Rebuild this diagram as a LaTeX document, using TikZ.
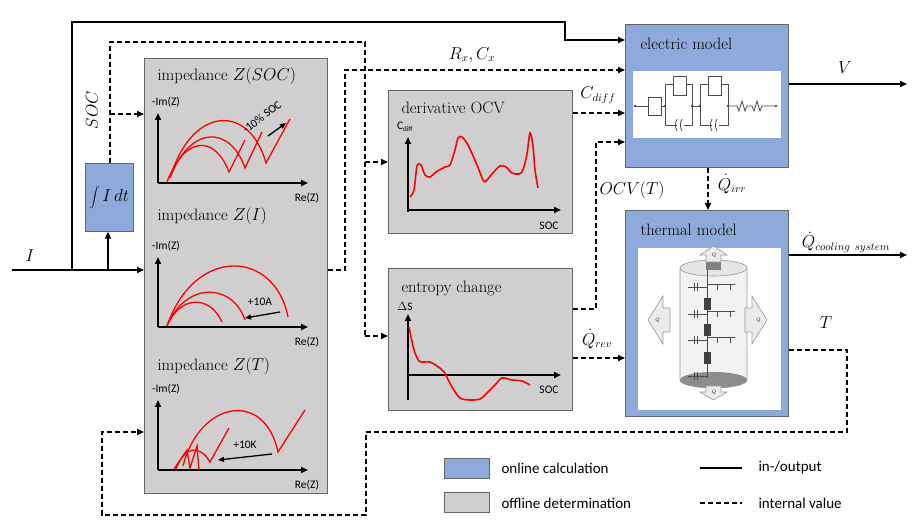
\documentclass[tikz,border=0pt]{standalone}
\usepackage{fontspec}
\newfontfamily\sansf{Carlito}
\usetikzlibrary{arrows.meta}
\definecolor{onl}{RGB}{142,170,219}
\definecolor{offl}{RGB}{208,206,206}
\begin{document}
\begin{tikzpicture}[x=1pt,y=-1pt,
 io/.style={line width=1.6pt,-{Triangle[length=7pt,width=6pt]}},
 iv/.style={line width=1.6pt,dash pattern=on 5pt off 3pt,-{Triangle[length=7pt,width=6pt]}},
 ivn/.style={line width=1.6pt,dash pattern=on 5pt off 3pt},
 ax/.style={line width=1.8pt,-{Triangle[length=7pt,width=6pt]}},
 red/.style={draw=red,line width=1.3pt},
 blk/.style={draw=black!60,line width=0.6pt},
 ttl/.style={font=\fontsize{16.5}{18}\selectfont,anchor=west},
 sm/.style={font=\sansf\fontsize{11.5}{12}\selectfont},
 lab/.style={font=\fontsize{16}{18}\selectfont}]
\useasboundingbox (0,0) rectangle (921,526);
% boxes
\node[blk,fill=offl,minimum width=183pt,minimum height=435pt,anchor=north west,inner sep=0] (imp) at (144,58) {};
\node[blk,fill=onl,minimum width=48pt,minimum height=68pt,anchor=north west,inner sep=0] (int) at (85,163) {};
\node at (int.center) {\fontsize{16}{18}\selectfont$\displaystyle\int I\,dt$};
\node[blk,fill=offl,minimum width=184pt,minimum height=143pt,anchor=north west,inner sep=0] (der) at (388,90) {};
\node[blk,fill=offl,minimum width=184pt,minimum height=142pt,anchor=north west,inner sep=0] (ent) at (388,268) {};
\node[blk,fill=onl,minimum width=163pt,minimum height=143pt,anchor=north west,inner sep=0] (el) at (625,24) {};
\node[blk,fill=onl,minimum width=163pt,minimum height=206pt,anchor=north west,inner sep=0] (th) at (625,210) {};
\fill[white] (633,71) rectangle (781,138);
\fill[white] (638,248) rectangle (781,410);
\node[ttl] at (637,44) {electric model};
\node[ttl] at (637,230) {thermal model};
\node[ttl] at (398,108) {derivative OCV};
\node[ttl] at (398,288) {entropy change};
\node[ttl] at (154,76) {impedance $Z(SOC)$};
\node[ttl] at (154,216) {impedance $Z(I)$};
\node[ttl] at (154,366) {impedance $Z(T)$};
% coordinates
\coordinate (iin) at (12,270);
\coordinate (b1) at (72,270);
\coordinate (b2) at (108,270);
\coordinate (vout) at (907,84);
\coordinate (qout) at (907,255);
% solid connectors
\draw[line width=1.6pt] (iin) -- (b1);
\draw[io] (b1) -- (imp.west |- b1);
\draw[io] (b1) -- (72,22) -- (565,22) -- (565,40) -- (el.west |- 0,40);
\draw[io] (b2) -- (int.south -| b2);
\draw[io] (el.east |- vout) -- (vout);
\draw[io] (th.east |- qout) -- (qout);
\node[lab] at (30,256) {$I$};
\node[lab] at (845,68) {$V$};
\node[lab] at (846,242) {$\dot Q_{cooling\ system}$};
% dashed connectors
\draw[ivn] (int.north -| 110,0) -- (110,42) -- (365,42) -- (365,336);
\draw[iv] (110,114) -- (imp.west |- 0,114);
\draw[iv] (365,162) -- (der.west |- 0,162);
\draw[iv] (365,336) -- (ent.west |- 0,336);
\node[lab,rotate=90] at (92,110) {$SOC$};
\draw[iv] (imp.east |- 0,270) -- (345,270) -- (345,70) -- (el.west |- 0,70);
\node[lab] at (472,55) {$R_x,C_x$};
\draw[iv] (der.east |- 0,113) -- (el.west |- 0,113);
\node[lab] at (598,95) {$C_{diff}$};
\draw[iv] (ent.east |- 0,309) -- (596,309) -- (596,142) -- (el.west |- 0,142);
\node[lab] at (632,190) {$OCV(T)$};
\draw[iv] (ent.east |- 0,358) -- (th.west |- 0,358);
\node[lab] at (597,339) {$\dot Q_{rev}$};
\draw[iv] (el.south -| 708,0) -- (th.north -| 708,0);
\node[lab] at (732,184) {$\dot Q_{irr}$};
\draw[iv] (th.east |- 0,350) -- (847,350) -- (847,432) -- (366,432) -- (366,515) -- (102,515) -- (102,432) -- (imp.west |- 0,432);
\node[lab] at (826,323) {$T$};
% impedance plots
\foreach \o in {183,327,470}{
 \draw[ax] (158,\o) -- (158,\o-70);
 \draw[ax] (158,\o) -- (308,\o);
 \node[sm] at (166,\o-81) {-Im(Z)};
 \node[sm] at (307,\o+15) {Re(Z)};
}
\draw[red] (167,182) .. controls (185,135) and (215,135) .. (229,172) -- (245,140);
\draw[red] (170,178) .. controls (190,125) and (230,125) .. (245,168) -- (262,132);
\draw[red] (172,172) .. controls (195,105) and (250,105) .. (266,163) -- (290,119);
\draw[line width=1.3pt,-{Triangle[length=6pt,width=5pt]}] (268,136) -- (286,123);
\node[sm,rotate=37] at (262,117) {-10\% SOC};
\draw[red] (167,326) .. controls (180,295) and (210,295) .. (222,322);
\draw[red] (167,326) .. controls (185,282) and (232,282) .. (245,320);
\draw[red] (167,326) .. controls (195,245) and (275,250) .. (288,317);
\draw[line width=1.3pt,-{Triangle[length=6pt,width=5pt]}] (280,312) -- (245,318);
\node[sm] at (260,302) {+10A};
\draw[red] (174,469) -- (187,450) -- (190,468) -- (197,446) -- (199,470);
\draw[red] (176,469) .. controls (185,445) and (200,445) .. (210,462) -- (229,428);
\draw[red] (183,466) .. controls (200,400) and (265,390) .. (278,452) -- (305,410);
\draw[line width=1.3pt,-{Triangle[length=6pt,width=5pt]}] (272,454) -- (218,460);
\node[sm] at (245,445) {+10K};
% derivative plot
\draw[ax] (408,212) -- (408,137);
\draw[ax] (408,210) -- (561,210);
\node[sm] at (405,127) {C\textsubscript{\fontsize{7}{8}\selectfont diff}};
\node[sm] at (549,226) {SOC};
\draw[red,line width=1.6pt] plot[smooth] coordinates {(410,197) (414,190) (417,166) (421,165) (425,175) (430,177) (436,172) (445,167) (450,165) (455,150) (458,138) (462,137) (468,145) (477,165) (483,180) (486,181) (492,174) (500,166) (506,167) (512,173) (519,174) (523,170) (527,154) (530,133) (533,146) (535,170) (538,188)};
% entropy plot
\draw[ax] (408,400) -- (408,314);
\draw[ax] (408,375) -- (561,375);
\node[sm] at (405,306) {$\Delta$S};
\node[sm] at (549,390) {SOC};
\draw[red,line width=1.6pt] plot[smooth] coordinates {(409,327) (414,350) (419,361) (424,362) (430,362) (437,366) (444,372) (452,387) (460,398) (470,400) (480,399) (487,393) (495,385) (502,378) (512,380) (522,381) (530,385)};
% circuit
\begin{scope}[draw=black!70,line width=0.8pt]
\draw (635,106) -- (648,106); \draw (648,97) rectangle (661,115);
\draw (661,106) -- (665,106) (665,84) -- (665,125) -- (692,125) -- (692,84) -- (665,84);
\fill[white] (673,76) rectangle (686,95); \draw (673,76) rectangle (686,95);
\fill[white] (677,120) rectangle (684,130);
\draw (677,119) arc[start angle=150,end angle=210,radius=12pt] (682,119) arc[start angle=150,end angle=210,radius=12pt];
\draw (692,106) -- (700,106) (700,84) -- (700,125) -- (728,125) -- (728,84) -- (700,84);
\fill[white] (708,76) rectangle (721,95); \draw (708,76) rectangle (721,95);
\fill[white] (712,120) rectangle (719,130);
\draw (712,119) arc[start angle=150,end angle=210,radius=12pt] (717,119) arc[start angle=150,end angle=210,radius=12pt];
\draw (728,106) -- (737,106) -- (739,111) -- (742,101) -- (745,111) -- (747,106) -- (752,106) -- (754,111) -- (757,101) -- (760,111) -- (762,106) -- (776,106);
\foreach \x in {635,665,692,700,728,776} \fill[black!70] (\x,106) circle (1.3pt);
\end{scope}
% thermal cell
\begin{scope}[draw=black!40,line width=0.6pt]
\draw[fill=black!5] (680,268) -- (680,380) arc[start angle=180,end angle=360,x radius=33.5pt,y radius=8pt] -- (747,268);
\draw[fill=black!10] (713.5,268) ellipse[x radius=33.5pt,y radius=8pt];
\fill[black!45] (713.5,380) ellipse[x radius=33.5pt,y radius=8pt];
\fill[black!50] (706,262) rectangle (721,270);
\draw[fill=black!8] (706,262) -- (706,255) -- (700,255) -- (713.5,246) -- (727,255) -- (721,255) -- (721,262) -- cycle;
\draw[fill=black!8] (706,386) -- (706,392) -- (700,392) -- (713.5,400) -- (727,392) -- (721,392) -- (721,386) -- cycle;
\draw[fill=black!8] (670,308) -- (663,308) -- (663,296) -- (648,320) -- (663,344) -- (663,332) -- (670,332) -- cycle;
\draw[fill=black!8] (745,308) -- (752,308) -- (752,296) -- (767,320) -- (752,344) -- (752,332) -- (745,332) -- cycle;
\end{scope}
\begin{scope}[line width=0.8pt,draw=black!70]
\draw (707,270) -- (707,378);
\foreach \y in {287,314,340}{
 \draw (688,\y) -- (707,\y) (694,\y-4) -- (694,\y+4) (697,\y-4) -- (697,\y+4);
 \draw (707,\y-3) -- (735,\y-3);
 \draw (717,\y-3) -- (717,\y+3) (730,\y-3) -- (730,\y+3);
}
\foreach \y in {298,324,352} \fill[black!75] (704,\y) rectangle (711,\y+12);
\draw (688,376) -- (707,376) (694,372) -- (694,380) (697,372) -- (697,380);
\end{scope}
\foreach \p in {(713.5,255),(713.5,392),(657,320),(758,320)} \node[font=\fontsize{5}{5}\selectfont\itshape] at \p {Q};
% legend
\node[blk,fill=onl,minimum width=45pt,minimum height=20pt,inner sep=0] (lon) at (467,468) {};
\node[blk,fill=offl,minimum width=45pt,minimum height=20pt,inner sep=0] (lof) at (467,502) {};
\node[anchor=west,font=\sansf\fontsize{15}{16}\selectfont] at (498,468) {online calculation};
\node[anchor=west,font=\sansf\fontsize{15}{16}\selectfont] at (498,503) {offline determination};
\coordinate (l1) at (700,468); \coordinate (l2) at (742,468);
\coordinate (l3) at (700,503); \coordinate (l4) at (742,503);
\draw[line width=1.6pt] (l1) -- (l2);
\draw[ivn] (l3) -- (l4);
\node[anchor=west,font=\sansf\fontsize{15}{16}\selectfont] at (755,468) {in-/output};
\node[anchor=west,font=\sansf\fontsize{15}{16}\selectfont] at (755,503) {internal value};
\end{tikzpicture}
\end{document}
